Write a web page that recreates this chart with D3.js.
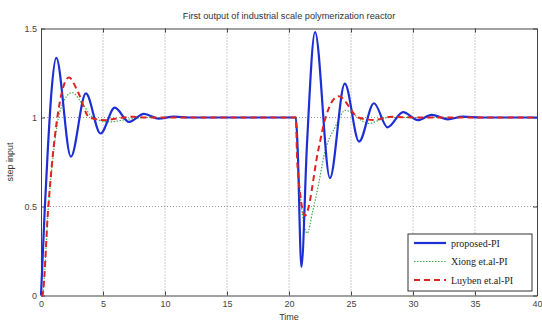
<!DOCTYPE html>
<html>
<head>
<meta charset="utf-8">
<script src="https://cdn.jsdelivr.net/npm/d3@7"></script>
<style>
  body { margin: 0; background: #fff; }
  .tick text { font-family: "Liberation Sans", Arial, sans-serif; font-size: 9px; fill: #444; }
  .domain, .tick line { stroke: #444; }
</style>
</head>
<body>
<div class="chart"></div>
<script>
// values (time, output) - step at t=0, disturbance at t~20.5
var xTicks = [0, 5, 10, 15, 20, 25, 30, 35, 40];
var yTicks = [0, 0.5, 1, 1.5];

var proposedT = [0, 0.3, 0.55, 0.85, 1.23, 2.41, 3.62, 4.8, 5.95, 7.1, 8.3, 9.5, 10.7, 12, 20.55,
  20.7, 21.0, 21.45, 22.1, 23.3, 24.5, 25.65, 26.85, 27.95, 29.2, 30.4, 31.5, 32.8, 34, 35.5, 40];
var proposedY = [0, 0.48, 0.82, 1.15, 1.335, 0.78, 1.135, 0.91, 1.055, 0.975, 1.02, 0.993, 1.005, 1, 1,
  0.82, 0.16, 0.85, 1.48, 0.66, 1.19, 0.865, 1.08, 0.945, 1.03, 0.985, 1.015, 0.99, 1.005, 1, 1];

var xiongT = [0, 0.1, 0.6, 1.0, 1.6, 2.5, 3.3, 4.2, 5.5, 7, 8.5, 20.55,
  20.7, 21.47, 21.9, 22.4, 22.8, 23.75, 24.55, 26.4, 28, 40];
var xiongY = [0, 0, 0.5, 0.8, 1.05, 1.14, 1.08, 1.0, 0.975, 0.99, 1, 1,
  0.76, 0.35, 0.47, 0.63, 0.78, 0.95, 1.04, 0.967, 1, 1];

var luybenT = [0, 0.1, 0.59, 1.0, 1.5, 2.25, 3.0, 3.9, 5.1, 6.3, 7.4, 8.5, 20.55,
  20.67, 21.3, 22.37, 22.95, 24.0, 25.6, 26.8, 28.3, 30, 40];
var luybenY = [0, 0, 0.5, 0.82, 1.08, 1.225, 1.14, 1.0, 0.985, 0.997, 1.004, 1, 1,
  0.74, 0.45, 0.82, 1.0, 1.12, 1.0, 0.986, 1.004, 1, 1];

var seriesNames = ["proposed-PI", "Xiong et.al-PI", "Luyben et.al-PI"];

var svgWidth = 542, svgHeight = 322;
var margin = { top: 28.5, right: 5, bottom: 26.5, left: 41 };
var width = svgWidth - margin.left - margin.right;
var height = svgHeight - margin.top - margin.bottom;

var svg = d3.select(".chart").append("svg")
  .attr("width", svgWidth)
  .attr("height", svgHeight);

var chartGroup = svg.append("g")
  .attr("transform", `translate(${margin.left}, ${margin.top})`);

var xScale = d3.scaleLinear().domain([0, 40]).range([0, width]);
var yScale = d3.scaleLinear().domain([0, 1.5]).range([height, 0]);

// dotted grid
chartGroup.append("g").selectAll("line")
  .data(xTicks.slice(1, -1))
  .enter().append("line")
  .attr("x1", d => xScale(d)).attr("x2", d => xScale(d))
  .attr("y1", 0).attr("y2", height)
  .attr("stroke", "#999").attr("stroke-width", 1).attr("stroke-dasharray", "1,2");

chartGroup.append("g").selectAll("line")
  .data(yTicks.slice(1, -1))
  .enter().append("line")
  .attr("y1", d => yScale(d)).attr("y2", d => yScale(d))
  .attr("x1", 0).attr("x2", width)
  .attr("stroke", "#999").attr("stroke-width", 1).attr("stroke-dasharray", "1,2");

// box axes, ticks inside
chartGroup.append("g")
  .attr("transform", `translate(0, ${height})`)
  .call(d3.axisBottom(xScale).tickValues(xTicks).tickSizeInner(-4).tickSizeOuter(0).tickPadding(5));
chartGroup.append("g")
  .call(d3.axisLeft(yScale).tickValues(yTicks).tickFormat(d3.format("")).tickSizeInner(-4).tickSizeOuter(0).tickPadding(4));
chartGroup.append("g")
  .call(d3.axisTop(xScale).tickValues(xTicks).tickFormat("").tickSizeInner(-4).tickSizeOuter(0));
chartGroup.append("g")
  .attr("transform", `translate(${width}, 0)`)
  .call(d3.axisRight(yScale).tickValues(yTicks).tickFormat("").tickSizeInner(-4).tickSizeOuter(0));

var line = d3.line()
  .x(d => xScale(d[0]))
  .y(d => yScale(d[1]))
  .curve(d3.curveMonotoneX);

function pairs(ts, ys) { return ts.map((t, i) => [t, ys[i]]); }

var styles = [
  { color: "#1c2fd4", width: 2.2, dash: null },
  { color: "#3fae4a", width: 1.2, dash: "1.5,1.5" },
  { color: "#e0231f", width: 2, dash: "6,4" }
];

chartGroup.append("path")
  .datum(pairs(xiongT, xiongY))
  .attr("d", line).attr("fill", "none")
  .attr("stroke", styles[1].color).attr("stroke-width", styles[1].width)
  .attr("stroke-dasharray", styles[1].dash);

chartGroup.append("path")
  .datum(pairs(proposedT, proposedY))
  .attr("d", line).attr("fill", "none")
  .attr("stroke", styles[0].color).attr("stroke-width", styles[0].width);

chartGroup.append("path")
  .datum(pairs(luybenT, luybenY))
  .attr("d", line).attr("fill", "none")
  .attr("stroke", styles[2].color).attr("stroke-width", styles[2].width)
  .attr("stroke-dasharray", styles[2].dash);

// legend
var legend = svg.append("g").attr("transform", "translate(408, 234)");
legend.append("rect")
  .attr("width", 124).attr("height", 57)
  .attr("fill", "#fff").attr("stroke", "#333").attr("stroke-width", 1);

legend.selectAll("line")
  .data(seriesNames)
  .enter().append("line")
  .attr("x1", 6).attr("x2", 38)
  .attr("y1", (d, i) => 9 + i * 18.5).attr("y2", (d, i) => 9 + i * 18.5)
  .attr("stroke", (d, i) => styles[i].color)
  .attr("stroke-width", (d, i) => styles[i].width)
  .attr("stroke-dasharray", (d, i) => styles[i].dash);

legend.selectAll("text")
  .data(seriesNames)
  .enter().append("text")
  .attr("x", 43)
  .attr("y", (d, i) => 9 + i * 18.5)
  .attr("dy", "0.35em")
  .style("font-family", "'Liberation Serif', 'Times New Roman', serif")
  .style("font-size", "10px")
  .style("fill", "#222")
  .text(d => d);

// title and axis labels
svg.append("text")
  .attr("x", margin.left + width / 2).attr("y", 19)
  .style("text-anchor", "middle")
  .style("font-family", "'Liberation Sans', Arial, sans-serif")
  .style("font-size", "9.2px").style("fill", "#333")
  .text("First output of industrial scale polymerization reactor");

svg.append("text")
  .attr("x", margin.left + width / 2).attr("y", 320)
  .style("text-anchor", "middle")
  .style("font-family", "'Liberation Sans', Arial, sans-serif")
  .style("font-size", "9px").style("fill", "#333")
  .text("Time");

svg.append("text")
  .attr("transform", `translate(13, ${margin.top + height / 2}) rotate(-90)`)
  .style("text-anchor", "middle")
  .style("font-family", "'Liberation Sans', Arial, sans-serif")
  .style("font-size", "9px").style("fill", "#333")
  .text("step input");
</script>
</body>
</html>
